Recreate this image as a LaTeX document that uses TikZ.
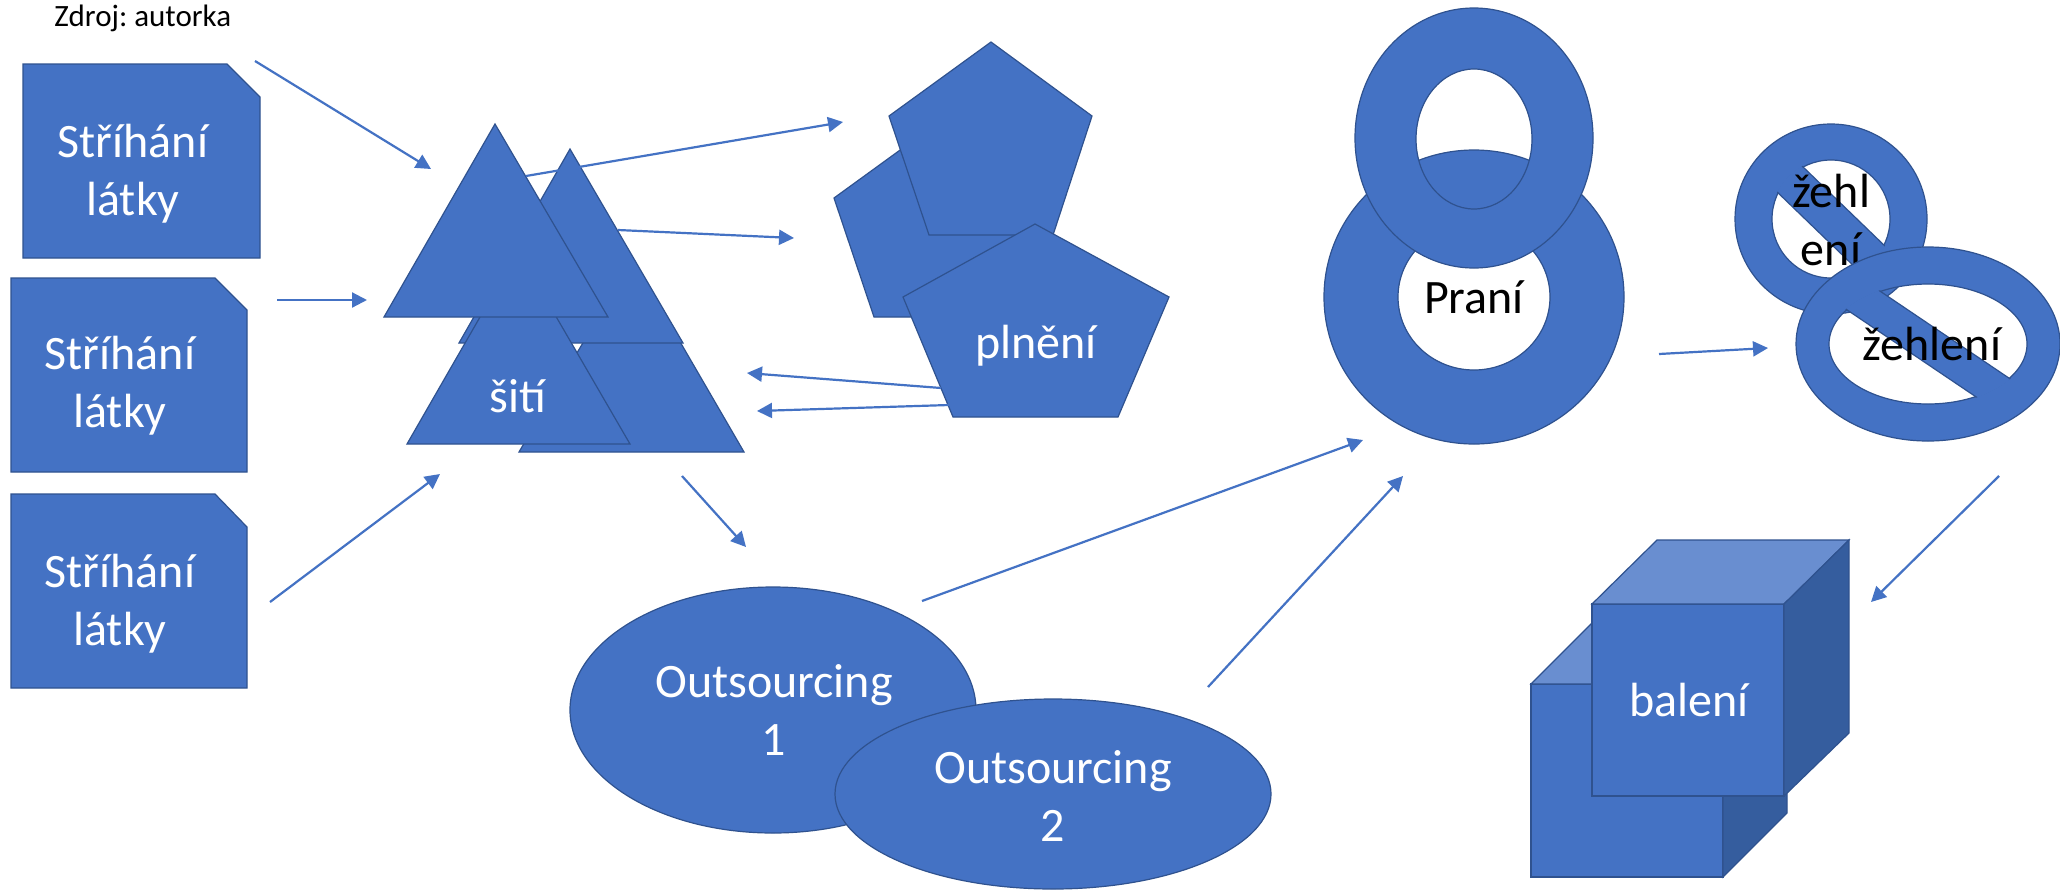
\documentclass[tikz,border=0pt]{standalone}
\usepackage{fontspec}
\setmainfont{Carlito}
\frenchspacing
\usetikzlibrary{arrows.meta}
\definecolor{shapefill}{HTML}{4472C4}
\definecolor{shapeline}{HTML}{2F528F}
\definecolor{cubetop}{HTML}{698ED0}
\definecolor{cubeside}{HTML}{355D9E}
\definecolor{arrowblue}{HTML}{4472C4}

\begin{document}
\begin{tikzpicture}[x=0.5pt,y=-0.5pt,
  blueshape/.style={fill=shapefill,draw=shapeline,line width=0.6pt,line join=miter},
  flowarrow/.style={draw=arrowblue,line width=1.1pt,-{Triangle[length=7.5pt,width=7.5pt]}},
  lbl/.style={text=white,font=\fontsize{24}{29}\selectfont,align=center,inner sep=0pt,anchor=base},
  darklbl/.style={lbl,text=black}]

\useasboundingbox (0,0) rectangle (2060,889);
\fill[white] (0,0) rectangle (2060,889);

% source note
\node[anchor=base west,inner sep=0pt,font=\fontsize{15.5}{18}\selectfont] (src) at (54,26) {Zdroj: autorka};

% cutting: three snipped-corner boxes (label anchors sit on the last baseline)
\path[blueshape] (23,64) -- (227,64) -- (260,97) -- (260,258) -- (23,258) -- cycle;
\node[lbl] (cut1) at (133,215) {Stříhání\\látky};
\path[blueshape] (11,278) -- (215,278) -- (247,310) -- (247,472) -- (11,472) -- cycle;
\node[lbl] (cut2) at (120,427) {Stříhání\\látky};
\path[blueshape] (11,494) -- (215,494) -- (247,527) -- (247,688) -- (11,688) -- cycle;
\node[lbl] (cut3) at (120,645) {Stříhání\\látky};

% sewing: stacked triangles
\path[blueshape] (632,259) -- (744,452) -- (519,452) -- cycle;
\path[blueshape] (570,149) -- (683,343) -- (459,343) -- cycle;
\path[blueshape] (518,251) -- (630,444) -- (407,444) -- cycle;
\path[blueshape] (495,124) -- (608,317) -- (384,317) -- cycle;
\node[lbl] (sew) at (518,412) {šití};

% filling: pentagons
\path[blueshape] (936,124) -- (1037,198) -- (998,317) -- (874,317) -- (834,198) -- cycle;
\path[blueshape] (991,42) -- (1092,116) -- (1053,235) -- (929,235) -- (889,116) -- cycle;
\path[blueshape] (1035,224) -- (1169,297) -- (1118,417) -- (953,417) -- (903,297) -- cycle;
\node[lbl] (fill) at (1036,358) {plnění};

% outsourcing ellipses
\path[blueshape] (773,710) ellipse [x radius=203,y radius=123];
\node[lbl] (out1) at (774,755) {Outsourcing\\1};
\path[blueshape] (1053,794) ellipse [x radius=218,y radius=95];
\node[lbl] (out2) at (1053,841) {Outsourcing\\2};

% washing: two rings
\path[blueshape,even odd rule] (1474,297) ellipse [x radius=150,y radius=147]
  (1474,297) ellipse [x radius=76,y radius=73];
\path[blueshape,even odd rule] (1474,138) ellipse [x radius=119,y radius=130]
  (1474,139) ellipse [x radius=58,y radius=70];
\node[darklbl] (wash) at (1474,313) {Praní};

% ironing: two prohibition signs
\begin{scope}[shift={(1831,219)}]
  \path[blueshape,even odd rule] (0,0) ellipse [x radius=96,y radius=95]
    (0,0) ellipse [x radius=59,y radius=59];
  \begin{scope}
    \clip (0,0) ellipse [x radius=60.2,y radius=60.2];
    \path[blueshape,rotate=-44] (-140,-18) rectangle (140,18);
  \end{scope}
\end{scope}
\node[darklbl] (iron1) at (1831,265) {žehl\\ení};
\begin{scope}[shift={(1928,344)}]
  \path[blueshape,even odd rule] (0,0) ellipse [x radius=132,y radius=97]
    (0,0) ellipse [x radius=99,y radius=60];
  \begin{scope}
    \clip (0,0) ellipse [x radius=100.2,y radius=61.2];
    \path[blueshape,rotate=-34] (-180,-17) rectangle (180,17);
  \end{scope}
\end{scope}
\node[darklbl] (iron2) at (1932,360) {žehlení};

% packing: two cubes
\path[blueshape] (1531,684) rectangle (1723,877);
\path[blueshape,fill=cubetop] (1531,684) -- (1595,620) -- (1787,620) -- (1723,684) -- cycle;
\path[blueshape,fill=cubeside] (1723,684) -- (1787,620) -- (1787,813) -- (1723,877) -- cycle;
\path[blueshape] (1592,604) rectangle (1784,796);
\path[blueshape,fill=cubetop] (1592,604) -- (1657,540) -- (1849,540) -- (1784,604) -- cycle;
\path[blueshape,fill=cubeside] (1784,604) -- (1849,540) -- (1849,733) -- (1784,796) -- cycle;
\node[lbl] (pack) at (1689,716) {balení};

% connector end points
\coordinate (a1s) at (255,61);   \coordinate (a1e) at (431,169);
\coordinate (a2s) at (277,300);  \coordinate (a2e) at (367,300);
\coordinate (a3s) at (270,602);  \coordinate (a3e) at (440,474);
\coordinate (a4s) at (526,176);  \coordinate (a4e) at (843,122);
\coordinate (a5s) at (618,230);  \coordinate (a5e) at (794,238);
\coordinate (a6s) at (941,388);  \coordinate (a6e) at (747,373);
\coordinate (a7s) at (949,405);  \coordinate (a7e) at (757,411);
\coordinate (a8s) at (682,476);  \coordinate (a8e) at (746,547);
\coordinate (a9s) at (922,601);  \coordinate (a9e) at (1363,440);
\coordinate (a10s) at (1208,687); \coordinate (a10e) at (1403,476);
\coordinate (a11s) at (1659,354); \coordinate (a11e) at (1768,348);
\coordinate (a12s) at (1999,476); \coordinate (a12e) at (1871,602);

\foreach \k in {1,...,12} {
  \draw[flowarrow] (a\k s) -- (a\k e);
}
\end{tikzpicture}
\end{document}
